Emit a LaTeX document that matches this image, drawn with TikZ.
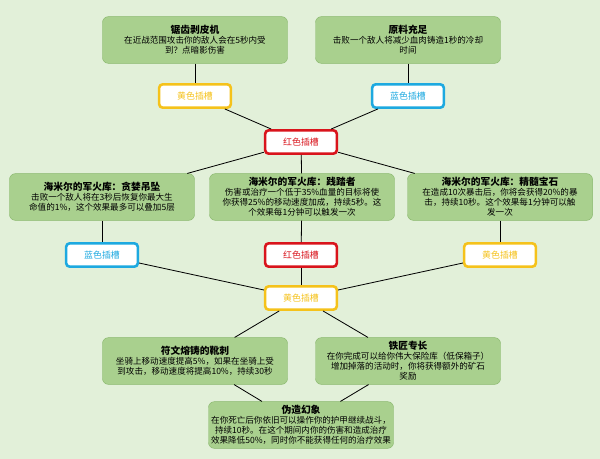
\documentclass[tikz,border=0pt]{standalone}
\usepackage{fontspec}
\setmainfont{Noto Sans CJK SC}
\definecolor{bgc}{HTML}{E2F0D9}
\definecolor{boxc}{HTML}{A9D08E}
\definecolor{boxd}{HTML}{8AB86E}
\definecolor{ylw}{HTML}{F5C21B}
\definecolor{blu}{HTML}{1DA9E0}
\definecolor{rd}{HTML}{D9141C}
\tikzset{
  talent/.style = {draw = boxd, fill = boxc, rounded corners = 5pt, minimum width = 5.55cm,
    minimum height = 1.4cm, align = center, font = \fontsize{7.3}{8.6}\selectfont, inner sep = 1pt},
  slot/.style = {draw = #1, text = #1, fill = white, line width = 2.2pt, rounded corners = 3pt,
    minimum width = 2.15cm, minimum height = 0.7cm, font = \fontsize{7.6}{8}\selectfont},
  link/.style = {line width = 0.7pt}
}
\newcommand{\ttl}[1]{{\fontsize{8.3}{9.8}\selectfont\bfseries #1}\\}
\begin{document}
\begin{tikzpicture}[x = 0.03cm, y = -0.03cm]
	% background
	\fill[bgc] (0, 0) rectangle (600, 459);
	% talents
	\node[talent] (saw)   at (195, 40)  {\ttl{锯齿剥皮机}在近战范围攻击你的敌人会在5秒内受\\到？点暗影伤害};
	\node[talent] (raw)   at (408, 40)  {\ttl{原料充足}击败一个敌人将减少血肉铸造1秒的冷却\\时间};
	\node[talent] (gem1)  at (102, 197) {\ttl{海米尔的军火库：贪婪吊坠}击败一个敌人将在3秒后恢复你最大生\\命值的1\%，这个效果最多可以叠加5层};
	\node[talent] (gem2)  at (302, 197) {\ttl{海米尔的军火库：践踏者}伤害或治疗一个低于35\%血量的目标将使\\你获得25\%的移动速度加成，持续5秒。这\\个效果每1分钟可以触发一次};
	\node[talent] (gem3)  at (500, 197) {\ttl{海米尔的军火库：精髓宝石}在造成10次暴击后，你将会获得20\%的暴\\击，持续10秒。这个效果每1分钟可以触\\发一次};
	\node[talent] (rune)  at (195, 361) {\ttl{符文熔铸的靴刺}坐骑上移动速度提高5\%，如果在坐骑上受\\到攻击，移动速度将提高10\%，持续30秒};
	\node[talent] (smith) at (408, 361) {\ttl{铁匠专长}在你完成可以给你伟大保险库（低保箱子）\\增加掉落的活动时，你将获得额外的矿石\\奖励};
	\node[talent] (fake)  at (301, 425) {\ttl{伪造幻象}在你死亡后你依旧可以操作你的护甲继续战斗，\\持续10秒。在这个期间内你的伤害和造成治疗\\效果降低50\%，同时你不能获得任何的治疗效果};
	% slots
	\node[slot = ylw] (ys1) at (195, 96)  {黄色插槽};
	\node[slot = blu] (bs1) at (408, 96)  {蓝色插槽};
	\node[slot = rd]  (rs1) at (301, 142) {红色插槽};
	\node[slot = blu] (bs2) at (102, 255) {蓝色插槽};
	\node[slot = rd]  (rs2) at (301, 255) {红色插槽};
	\node[slot = ylw] (ys2) at (500, 255) {黄色插槽};
	\node[slot = ylw] (ys3) at (301, 298) {黄色插槽};
	% links
	\draw[link] (saw) -- (ys1);
	\draw[link] (raw) -- (bs1);
	\draw[link] (ys1) -- (rs1);
	\draw[link] (bs1) -- (rs1);
	\draw[link] (rs1) -- (gem1);
	\draw[link] (rs1) -- (gem2);
	\draw[link] (rs1) -- (gem3);
	\draw[link] (gem1) -- (bs2);
	\draw[link] (gem2) -- (rs2);
	\draw[link] (gem3) -- (ys2);
	\draw[link] (bs2) -- (ys3);
	\draw[link] (rs2) -- (ys3);
	\draw[link] (ys2) -- (ys3);
	\draw[link] (ys3) -- (rune);
	\draw[link] (ys3) -- (smith);
	\draw[link] (rune) -- (fake);
	\draw[link] (smith) -- (fake);
\end{tikzpicture}
\end{document}
